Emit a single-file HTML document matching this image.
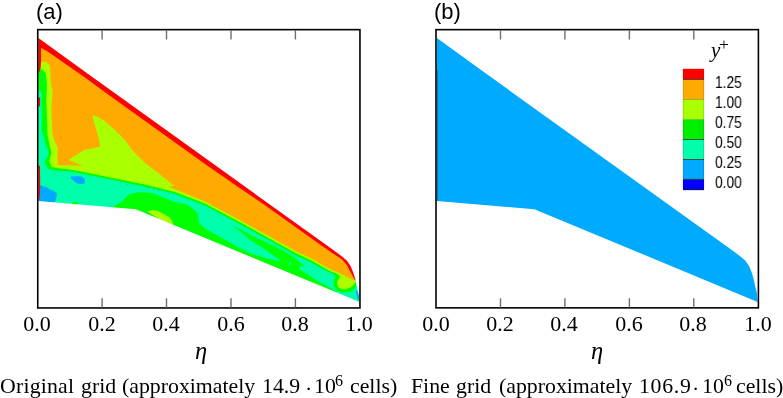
<!DOCTYPE html>
<html><head><meta charset="utf-8">
<style>
html,body{margin:0;padding:0;background:#fff;}
body{width:783px;height:398px;overflow:hidden;position:relative;font-family:"Liberation Serif",serif;color:#000;}
svg{position:absolute;left:0;top:0;}
.t{position:absolute;white-space:nowrap;line-height:1;will-change:transform;}
.tk{font-size:22px;transform:translateX(-50%);top:313.3px;margin-left:-0.6px;}
.cap{font-size:21.8px;top:375.8px;}
.csup{font-size:16px;top:372.8px;}
.pl{font-family:"Liberation Sans",sans-serif;font-size:22px;top:0.7px;}
.lg{font-family:"Liberation Sans",sans-serif;font-size:16.2px;left:714.5px;transform:scaleX(0.85);transform-origin:0 0;}
.eta{font-style:italic;font-size:24.5px;top:339px;transform:translateX(-50%);}
</style></head><body>
<svg width="783" height="398" viewBox="0 0 783 398" shape-rendering="geometricPrecision">
<!-- LEFT PANEL -->
<g>
<rect x="37" y="29" width="324" height="280" fill="#00ffaa"/>
<path fill="#00ff00" d="M108,210 L113,207 L115,205.4 L122.5,201.6 L126,197 L130,194 L137,192.5 L145,192.3 L152,193 L160.2,196 L175,202.3 L187,204.6 L194.6,209.9 L197.6,213.6 L198.5,218 L199,222.7 L205,228.7 L220.2,237 L235,245.5 L250,253.3 L265,258 L281,261.5 L290,275 L200,250 Z"/>
<path fill="#00ff00" d="M233.5,226 L240,229 L250,234.8 L265,241.8 L280,249 L288,253.5 L295.1,258.1 L298.6,261.6 L302.2,264.6 L305.2,266.6 L299.6,266.6 L299.1,268.6 L302.2,271.1 L307.2,274.1 L312,277.2 L320,282.6 L330,287.5 L336,291.8 L345,300 L250,262 L281,261.3 L280,259.9 L272,254.5 L265,249.3 L257,244.3 L250,239.7 L244,234.5 L238,230 Z"/>
<path fill="#00ffaa" d="M288.6,262.1 l2.5,0.3 l0.8,2.7 l-2.6,-0.6 Z"/>
<path fill="#aaff00" d="M147.4,211.5 L152.7,209.9 L158,211 L164.7,214.4 L169,217 L171.5,219.7 L173,224 L170,226 Z"/>
<path fill="#00aaff" d="M39,185 L41.3,185.7 L46,187 L50,189.5 L54,191 L57,193.3 L56.5,197 L55,203 L39,202 Z"/>
<path fill="#00aaff" d="M70.2,177.5 L71,176.4 L80,176.2 L82,176.8 L84.8,179 L84.8,183.2 L82,184.2 L78,183.8 L75,182 L72,179.5 Z"/>
<path fill="#00aaff" d="M355.8,290.5 L358,291.5 L360,297.2 L360,303 L357.5,298.4 Z"/>
<path fill="#00ff00" d="M38,90.5 L40.6,91 L41.6,93 L41.7,97 L41.7,130 L43.2,135 L46,145 L48.8,153.8 L47,158 L45,161 L45,163.6 L48,168.6 L52,170.1 L60,170.9 L70.2,171.6 L85,174.3 L145,186.7 L175,194 L205,205.5 L235,221.5 L265,238 L295,255 L312,263 L320,267.6 L333.8,274.6 L335.7,276.4 L333.6,280.8 L333.8,285.9 L337.6,290.9 L343.9,292.8 L351.4,291.5 L355.8,287.8 L356.7,284 L357.5,279 L362,282 L362,20 L38,20 Z"/>
<path fill="#aaff00" d="M38,69 L39.4,69 L42,69.5 L45.7,73 L47,85 L46.3,100 L47,120 L47.6,135 L49.5,145 L51.5,153 L50,158 L49.5,161 L50,163 L51.6,167.1 L60,168.6 L70,169.6 L85,172.2 L145,184.5 L175,192 L205,203.5 L235,219.5 L265,236 L295,252.8 L312,260.8 L320,265.4 L330,271 L337.5,274 L340.1,276.4 L337.6,280.8 L337,284 L338.8,287.8 L343.9,289.6 L350.2,287.8 L353.9,284.6 L355.2,282.7 L357,281 L362,282 L362,20 L38,20 Z"/>
<path fill="#ffaa00" d="M38,62.9 L39.1,62.9 L44,61.5 L47,62.5 L50,66 L51,85 L52.6,90 L51.3,110 L52.6,135 L55,142 L57.6,147 L57.6,165.1 L70,165.3 L83.3,166 L76,163 L68.7,160 L76,155 L84.3,150 L100,146.8 L100,145.2 L97.8,134.7 L94,122.6 L92.5,115.1 L97,116.5 L104.6,121.1 L115.2,130.2 L124.2,139.2 L133.2,151.3 L145,163 L160,174.5 L174.4,185.9 L168,186.3 L175,189.2 L205,201.5 L235,217.5 L265,234 L295,250.8 L312,258.8 L320,263.4 L332.6,270.2 L341.4,273.9 L348.9,278.3 L355.8,280.8 L362,282 L362,20 L38,20 Z"/>
<path fill="#ff0000" d="M38,50 L41,47.8 L47.6,51.5 L85,77.4 L105,92.2 L160,131.8 L205,164 L240,188.3 L265,205.2 L280,216 L320,244.4 L332.6,253.2 L342,259.5 L347,265.2 L350.2,271.4 L352.9,276.5 L354.5,279.6 L356,281 L357,282 L362,282 L362,20 L38,20 Z"/>
<rect x="147.5" y="187.2" width="1" height="1" fill="#00aaff" opacity="0.75"/><rect x="153.5" y="189" width="1" height="1" fill="#00aaff" opacity="0.75"/><rect x="157.3" y="189.9" width="1" height="1" fill="#00aaff" opacity="0.75"/><rect x="161.1" y="190.5" width="1" height="1" fill="#00aaff" opacity="0.75"/><rect x="164.9" y="191.7" width="1" height="1" fill="#00aaff" opacity="0.75"/><rect x="168.5" y="193.2" width="1" height="1" fill="#00aaff" opacity="0.75"/><rect x="173.1" y="194.3" width="1" height="1" fill="#00aaff" opacity="0.75"/><rect x="85.3" y="177.2" width="1" height="1" fill="#00aaff" opacity="0.75"/><rect x="119.9" y="182" width="1" height="1" fill="#00aaff" opacity="0.75"/><rect x="126.7" y="184" width="1" height="1" fill="#00aaff" opacity="0.75"/><rect x="132.7" y="184.7" width="1" height="1" fill="#00aaff" opacity="0.75"/>
<rect x="72.7" y="202" width="5" height="3" fill="#00ff00"/>
<path fill="#ff0000" d="M38,40 L41,44 L41,62 L40.6,68 L39.4,72 L38,73 Z"/>
<rect x="38" y="97.6" width="2.1" height="8.8" fill="#ff0000"/>
<path fill="#ff0000" d="M38,165.8 L40,165.8 L40.2,185 L40,194 L39.3,200 L38,200 Z"/>
<path fill="#fff" fill-rule="evenodd" d="M30,15 H372 V320 H30 Z M38.4,38.1 L85,71.8 L332.6,249.6 L342.6,256.9 L347,260.8 L350.8,266.4 L353.3,272.7 L355.2,279 L356.4,285 L358.5,293.5 L359.3,298 L359.1,301.8 L135.8,209.2 L38.4,201.1 Z"/>
</g>
<!-- RIGHT PANEL -->
<path transform="translate(398.5,0)" d="M38.4,38.1 L85,71.8 L332.6,249.6 L342.6,256.9 L347,260.8 L350.8,266.4 L353.3,272.7 L355.2,279 L356.4,285 L358.5,293.5 L359.1,301.9 L135.8,209.2 L38.4,201.1 Z" fill="#00aaff"/>
<path d="M437.15,70 V201" stroke="#5a0000" stroke-width="0.7" opacity="0.7" fill="none"/>
<!-- frames -->
<g fill="none" stroke="#000" stroke-width="1.6">
<rect x="37.75" y="29.65" width="322.2" height="278.3"/>
<rect x="436" y="29.65" width="322.4" height="278.2"/>
</g>
<g stroke="#707070" stroke-width="1.4" fill="none">
<path d="M102.1,30 v9.6 M166.5,30 v9.6 M231,30 v9.6 M295.4,30 v9.6 M102.1,307.5 v-9.3 M166.5,307.5 v-9.3 M231,307.5 v-9.3 M295.4,307.5 v-9.3"/>
<path transform="translate(398.4,0)" d="M102.1,30 v9.6 M166.5,30 v9.6 M231,30 v9.6 M295.4,30 v9.6 M102.1,307.5 v-9.3 M166.5,307.5 v-9.3 M231,307.5 v-9.3 M295.4,307.5 v-9.3"/>
</g>
<!-- legend -->
<g>
<rect x="683" y="68.8" width="21" height="10.7" fill="#ff0000"/>
<rect x="683" y="79.5" width="21" height="20" fill="#ffaa00"/>
<rect x="683" y="99.5" width="21" height="20" fill="#aaff00"/>
<rect x="683" y="119.5" width="21" height="20" fill="#00ee00"/>
<rect x="683" y="139.5" width="21" height="20" fill="#00ffaa"/>
<rect x="683" y="159.5" width="21" height="20" fill="#00aaff"/>
<rect x="683" y="179.5" width="21" height="10.5" fill="#0000ff"/>
<path d="M683,79.4 h21 M683,139.5 h21 M683,159.5 h21 M683,179.4 h21 M683,189.7 h21" stroke="#1a1a1a" stroke-width="0.75"/>
<path d="M683,99.4 h21" stroke="#5a4a00" stroke-width="0.6" opacity="0.7"/>
<path d="M683,119.4 h21" stroke="#2a6a00" stroke-width="0.5" opacity="0.45"/>
<path d="M683.15,69 V190 M703.85,69 V190" stroke="#222" stroke-width="0.4" opacity="0.5"/>
</g>
</svg>
<div class="t pl" style="left:36px">(a)</div>
<div class="t pl" style="left:434px">(b)</div>
<div class="t tk" style="left:37.7px">0.0</div>
<div class="t tk" style="left:102.2px">0.2</div>
<div class="t tk" style="left:166.6px">0.4</div>
<div class="t tk" style="left:231.1px">0.6</div>
<div class="t tk" style="left:295.5px">0.8</div>
<div class="t tk" style="left:360px">1.0</div>
<div class="t tk" style="left:436.1px">0.0</div>
<div class="t tk" style="left:500.6px">0.2</div>
<div class="t tk" style="left:565px">0.4</div>
<div class="t tk" style="left:629.5px">0.6</div>
<div class="t tk" style="left:693.9px">0.8</div>
<div class="t tk" style="left:758.4px">1.0</div>
<div class="t eta" style="left:200.9px">η</div>
<div class="t eta" style="left:597px">η</div>
<!--CAPS-->
<div class="t cap" id="w0" style="left:0.3px;letter-spacing:0.2px">Original</div>
<div class="t cap" id="w1" style="left:80.8px">grid</div>
<div class="t cap" id="w2" style="left:122.0px">(approximately</div>
<div class="t cap" id="w3" style="left:262.4px">14.9</div>
<div class="t cap" id="w4" style="left:305.0px;top:378.8px">·</div>
<div class="t cap" id="w5" style="left:313.9px">10</div>
<div class="t cap csup" id="w6" style="left:335.4px">6</div>
<div class="t cap" id="w7" style="left:350.2px">cells)</div>
<div class="t cap" id="w8" style="left:410.9px">Fine</div>
<div class="t cap" id="w9" style="left:456.2px">grid</div>
<div class="t cap" id="w10" style="left:498.8px">(approximately</div>
<div class="t cap" id="w11" style="left:638.6px;letter-spacing:0.7px">106.9</div>
<div class="t cap" id="w12" style="left:691.7px;top:378.8px">·</div>
<div class="t cap" id="w13" style="left:701.6px">10</div>
<div class="t cap csup" id="w14" style="left:724.0px">6</div>
<div class="t cap" id="w15" style="left:735.6px">cells)</div>
<!--/CAPS-->
<div class="t" style="left:710.5px;top:40px;font-style:italic;font-size:21px;">y</div>
<div class="t" style="left:718.7px;top:35.5px;font-size:17.5px;">+</div>
<div class="t lg" style="top:74px">1.25</div>
<div class="t lg" style="top:94px">1.00</div>
<div class="t lg" style="top:114px">0.75</div>
<div class="t lg" style="top:134px">0.50</div>
<div class="t lg" style="top:154px">0.25</div>
<div class="t lg" style="top:174px">0.00</div>
</body></html>
